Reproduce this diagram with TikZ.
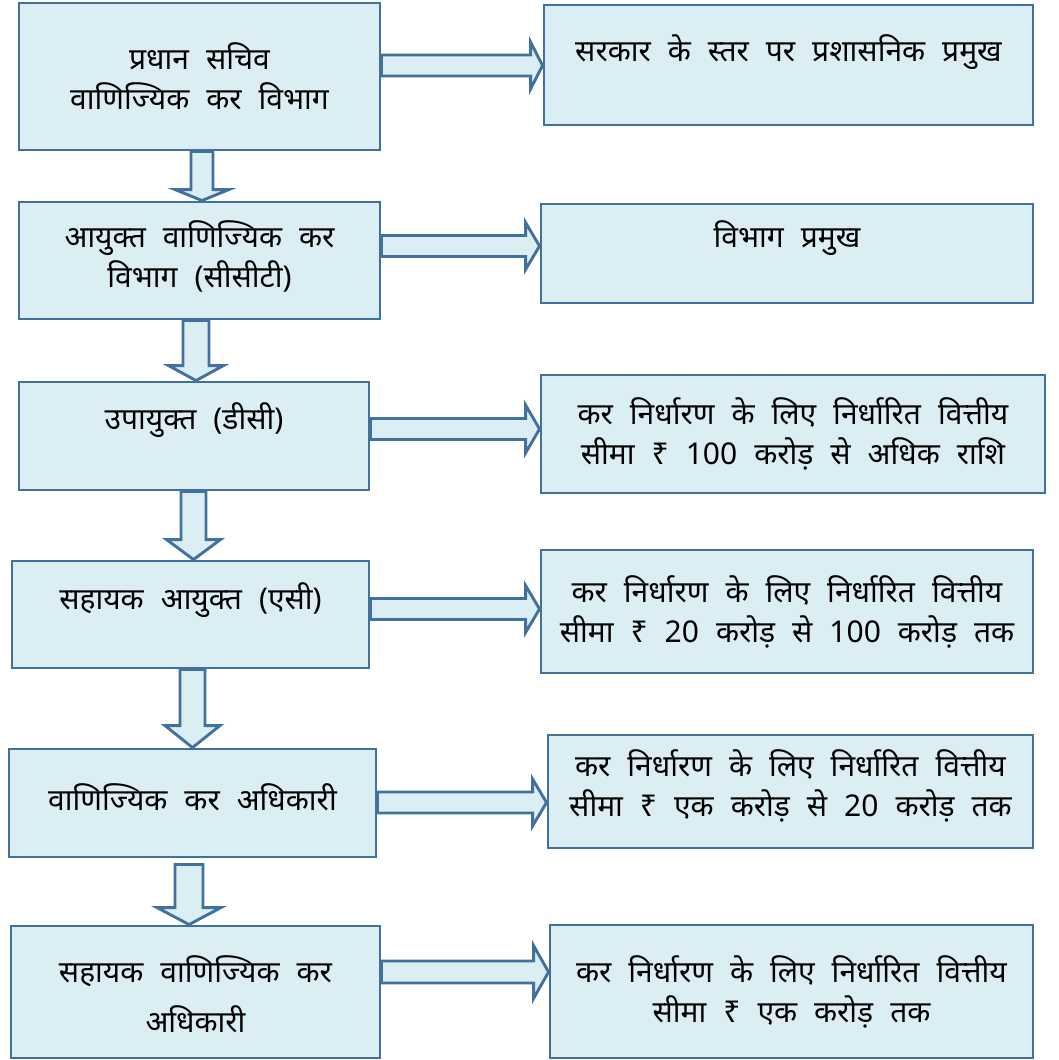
\documentclass[tikz,border=0pt]{standalone}
\usepackage{fontspec}
\newfontfamily\hindi[Script=Devanagari]{Noto Sans}
\usetikzlibrary{calc}
\definecolor{boxfill}{HTML}{DBEEF4}
\definecolor{boxline}{HTML}{41719C}
\newcommand\boxfont{\hindi\fontsize{30}{40}\selectfont\spaceskip=17pt\relax}
\newcommand\lift[2]{\raisebox{#1}[\height][\depth]{#2}}
\newcommand\downblk[7]{%
  \draw[blk] ($(#3-#4,0 |- #1.south)+(0,#7)$) -- ($(#3-#4,0 |- #2.north)+(0,-#6)$)
    -- ($(#3-#5,0 |- #2.north)+(0,-#6)$) -- (#3,0 |- #2.north)
    -- ($(#3+#5,0 |- #2.north)+(0,-#6)$) -- ($(#3+#4,0 |- #2.north)+(0,-#6)$)
    -- ($(#3+#4,0 |- #1.south)+(0,#7)$) -- cycle;}
\newcommand\rightblk[6]{%
  \draw[blk] (#1.east |- 0,#3-#4) -- ($(#2.west |- 0,#3-#4)+(-#6,0)$)
    -- ($(#2.west |- 0,#3-#5)+(-#6,0)$) -- (#2.west |- 0,#3)
    -- ($(#2.west |- 0,#3+#5)+(-#6,0)$) -- ($(#2.west |- 0,#3+#4)+(-#6,0)$)
    -- (#1.east |- 0,#3+#4) -- cycle;}
\begin{document}
\begin{tikzpicture}[x=1pt, y=-1pt]
        \tikzstyle{box}=[draw=boxline, fill=boxfill, line width=2.9pt, rectangle, inner sep=0pt, align=center, font=\boxfont];
        \tikzstyle{blk}=[draw=boxline, fill=boxfill, line width=2.9pt, line join=miter];
        \useasboundingbox (0,0) rectangle (1059,1060);
        \node[box, minimum width=361pt, minimum height=147pt] (sachiv) at (199.5,76.5) {प्रधान सचिव\\वाणिज्यिक कर विभाग};
        \node[box, minimum width=361pt, minimum height=117pt] (ayukt) at (199.5,260.5) {\lift{4pt}{आयुक्त वाणिज्यिक कर}\\\lift{4pt}{विभाग (सीसीटी)}};
        \node[box, minimum width=350pt, minimum height=108pt] (dc) at (194,436) {\lift{16pt}{उपायुक्त (डीसी)}};
        \node[box, minimum width=357pt, minimum height=107pt] (ac) at (190.5,614.5) {\lift{14pt}{सहायक आयुक्त (एसी)}};
        \node[box, minimum width=367pt, minimum height=108pt] (cto) at (192.5,803) {\lift{6pt}{वाणिज्यिक कर अधिकारी}};
        \node[box, minimum width=369pt, minimum height=132pt] (acto) at (195.5,992) {\lift{-2pt}{सहायक वाणिज्यिक कर}\\[10pt]\lift{-2pt}{अधिकारी}};

        \node[box, minimum width=489pt, minimum height=120pt] (sarkar) at (788.5,65) {\lift{13pt}{सरकार के स्तर पर प्रशासनिक प्रमुख}};
        \node[box, minimum width=492pt, minimum height=99pt] (pramukh) at (787,253.5) {\lift{15pt}{विभाग प्रमुख}};
        \node[box, minimum width=504pt, minimum height=118pt] (seema100) at (793,434) {कर निर्धारण के लिए निर्धारित वित्तीय\\सीमा ₹ 100 करोड़ से अधिक राशि};
        \node[box, minimum width=492pt, minimum height=123pt] (seema20) at (787,611.5) {कर निर्धारण के लिए निर्धारित वित्तीय\\सीमा ₹ 20 करोड़ से 100 करोड़ तक};
        \node[box, minimum width=485pt, minimum height=113pt] (seema1) at (790.5,791.5) {\lift{6pt}{कर निर्धारण के लिए निर्धारित वित्तीय}\\\lift{6pt}{सीमा ₹ एक करोड़ से 20 करोड़ तक}};
        \node[box, minimum width=483pt, minimum height=133pt] (seema0) at (791.5,991.5) {कर निर्धारण के लिए निर्धारित वित्तीय\\सीमा ₹ एक करोड़ तक};

        \downblk{sachiv}{ayukt}{202}{11}{27}{11}{0}
        \downblk{ayukt}{dc}{196}{13}{27.5}{15}{0}
        \downblk{dc}{ac}{193.5}{12.5}{27}{20}{0}
        \downblk{ac}{cto}{192.5}{12.5}{27.5}{22}{0}
        \downblk{cto}{acto}{189}{14}{32}{17}{6}

        \rightblk{sachiv}{sarkar}{65.5}{10.5}{23.5}{12}
        \rightblk{ayukt}{pramukh}{246}{10.5}{23.5}{14}
        \rightblk{dc}{seema100}{429}{10.5}{24}{14}
        \rightblk{ac}{seema20}{609}{10.5}{23.5}{14}
        \rightblk{cto}{seema1}{802.5}{10.5}{23.5}{14}
        \rightblk{acto}{seema0}{972}{11}{26.5}{15}
\end{tikzpicture}
\end{document}
